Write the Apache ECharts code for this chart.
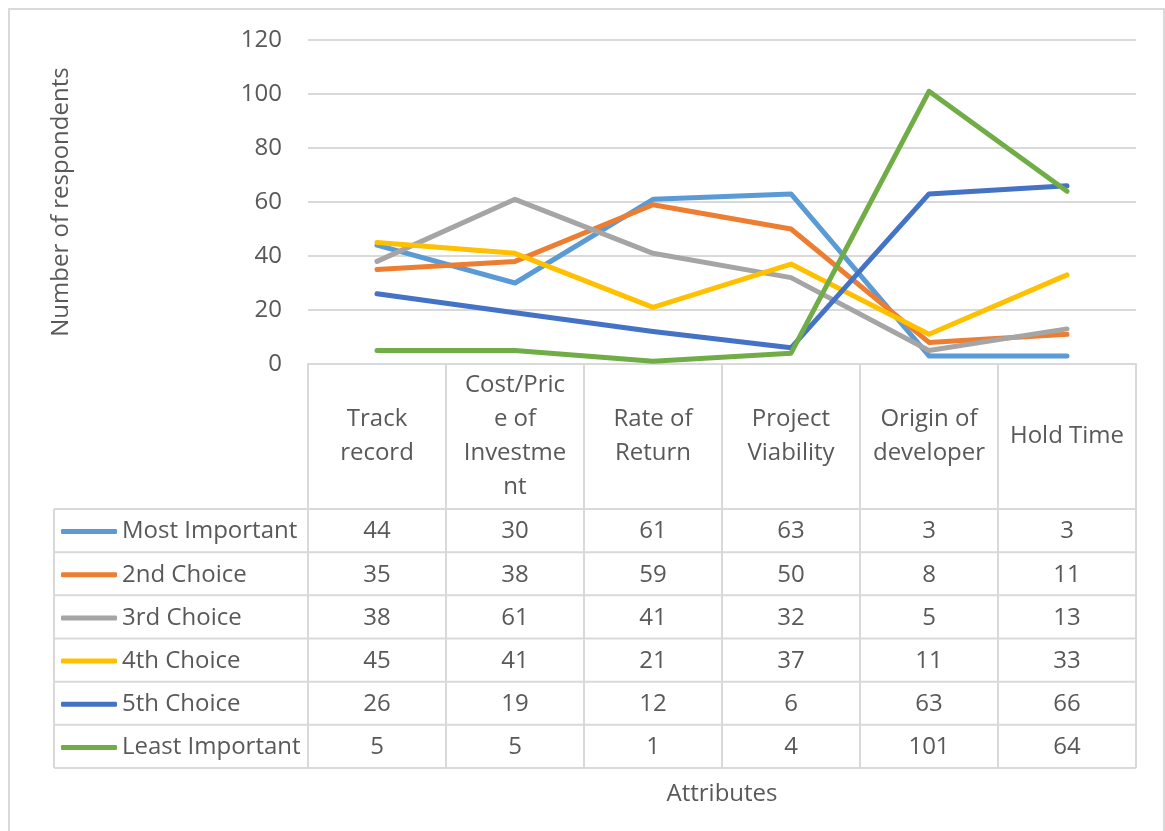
<!DOCTYPE html>
<html>
<head>
<meta charset="utf-8">
<title>Attribute ranking</title>
<script src="https://cdn.jsdelivr.net/npm/echarts@6/dist/echarts.min.js"></script>
<style>
  html, body { margin: 0; padding: 0; background: #ffffff; }
  #chart { width: 1165px; height: 831px; }
</style>
</head>
<body>
<div id="chart"></div>
<script>
// Attributes ranked by respondents
const categories = ['Track record', 'Cost/Price of Investment', 'Rate of Return', 'Project Viability', 'Origin of developer', 'Hold Time'];
const categoryLabels = ['Track\nrecord', 'Cost/Pric\ne of\nInvestme\nnt', 'Rate of\nReturn', 'Project\nViability', 'Origin of\ndeveloper', 'Hold Time'];

const seriesNames = ['Most Important', '2nd Choice', '3rd Choice', '4th Choice', '5th Choice', 'Least Important'];
const mostImportant  = [44, 30, 61, 63, 3, 3];
const secondChoice   = [35, 38, 59, 50, 8, 11];
const thirdChoice    = [38, 61, 41, 32, 5, 13];
const fourthChoice   = [45, 41, 21, 37, 11, 33];
const fifthChoice    = [26, 19, 12, 6, 63, 66];
const leastImportant = [5, 5, 1, 4, 101, 64];
const seriesValues = [mostImportant, secondChoice, thirdChoice, fourthChoice, fifthChoice, leastImportant];

const yTicks = [0, 20, 40, 60, 80, 100, 120];

const colors = ['#5B9BD5', '#ED7D31', '#A5A5A5', '#FFC000', '#4472C4', '#70AD47'];
const FONT = 'Open Sans';
const TEXT = '#595959';
const RULE = '#D9D9D9';
const FS = 24;

// data-table geometry (below the plot)
const tableLeft = 54;
const tableHeadBottom = 509;
const tableBottom = 768;
const rowH = (tableBottom - tableHeadBottom) / seriesNames.length;

const chart = echarts.init(document.getElementById('chart'), null, { renderer: 'canvas' });

const option = {
  backgroundColor: '#ffffff',
  animation: false,
  textStyle: { fontFamily: FONT, color: TEXT },
  color: colors,
  grid: { left: 308, right: 29, top: 40, bottom: 467, containLabel: false },
  legend: {
    orient: 'vertical',
    left: 61,
    top: tableHeadBottom + rowH / 2 - 14,
    padding: 0,
    itemWidth: 56,
    itemHeight: 5,
    itemGap: rowH - 30,
    icon: 'roundRect',
    selectedMode: false,
    data: seriesNames,
    textStyle: { fontFamily: FONT, fontSize: FS, color: TEXT, lineHeight: 30 }
  },
  xAxis: {
    type: 'category',
    data: categories,
    boundaryGap: true,
    name: 'Attributes',
    nameLocation: 'middle',
    nameGap: 418,
    nameTextStyle: { fontFamily: FONT, fontSize: FS, color: TEXT },
    axisLine: { show: true, lineStyle: { color: RULE, width: 2 } },
    axisTick: { show: true, length: tableBottom - 364, lineStyle: { color: RULE, width: 2 } },
    axisLabel: {
      interval: 0,
      margin: 72,
      verticalAlign: 'middle',
      fontFamily: FONT,
      fontSize: FS,
      lineHeight: 34,
      color: TEXT,
      formatter: (v, i) => categoryLabels[i]
    },
    splitLine: { show: false }
  },
  yAxis: {
    type: 'value',
    min: yTicks[0],
    max: yTicks[yTicks.length - 1],
    interval: yTicks[1] - yTicks[0],
    name: 'Number of respondents',
    nameLocation: 'middle',
    nameRotate: 90,
    nameGap: 247,
    nameTextStyle: { fontFamily: FONT, fontSize: FS, color: TEXT, verticalAlign: 'middle' },
    axisLine: { show: false },
    axisTick: { show: false },
    axisLabel: { margin: 26, fontFamily: FONT, fontSize: FS, color: TEXT },
    splitLine: { lineStyle: { color: RULE, width: 2 } }
  },
  series: seriesNames.map((name, i) => ({
    name,
    type: 'line',
    data: seriesValues[i],
    symbol: 'none',
    lineStyle: { width: 5, color: colors[i], cap: 'round', join: 'round' },
    itemStyle: { color: colors[i] },
    z: 3 + i
  }))
};

chart.setOption(option);

// Data table beneath the plot: outer frame, row rules, left column rule, cell values
const graphics = [];
graphics.push({
  type: 'rect',
  shape: { x: 9, y: 9, width: 1155, height: 840 },
  style: { fill: null, stroke: RULE, lineWidth: 2 },
  silent: true, z: 0
});
const gridRect = chart.getModel().getComponent('grid', 0).coordinateSystem.getRect();
const tableRight = gridRect.x + gridRect.width;
for (let r = 0; r <= seriesNames.length; r++) {
  const y = tableHeadBottom + r * rowH;
  graphics.push({
    type: 'line',
    shape: { x1: tableLeft, y1: y, x2: tableRight, y2: y },
    style: { stroke: RULE, lineWidth: 2 },
    silent: true
  });
}
graphics.push({
  type: 'line',
  shape: { x1: tableLeft, y1: tableHeadBottom, x2: tableLeft, y2: tableBottom },
  style: { stroke: RULE, lineWidth: 2 },
  silent: true
});
seriesValues.forEach((vals, r) => {
  const cy = tableHeadBottom + (r + 0.5) * rowH + 1;
  vals.forEach((v, c) => {
    const cx = chart.convertToPixel({ xAxisIndex: 0 }, categories[c]);
    graphics.push({
      type: 'text',
      x: cx, y: cy,
      style: {
        text: String(v),
        fontFamily: FONT, fontSize: FS, fill: TEXT,
        align: 'center', verticalAlign: 'middle'
      },
      silent: true
    });
  });
});

chart.setOption({ graphic: graphics });
</script>
</body>
</html>
